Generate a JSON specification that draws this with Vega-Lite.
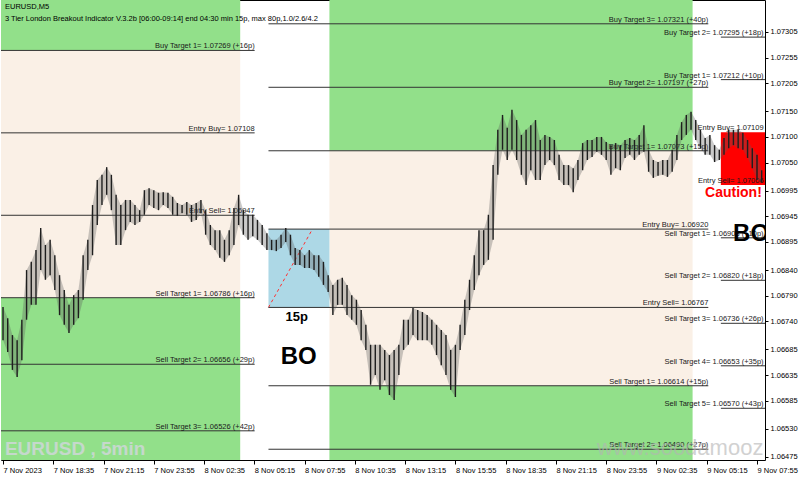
{
"$schema": "https://vega.github.io/schema/vega-lite/v6.json",
"width": 764,
"height": 460,
"autosize": {"type": "none"},
"padding": {"left": 1, "top": 0, "right": 35, "bottom": 17},
"background": "#ffffff",
"title": {"text": "EURUSD,M5", "subtitle": "3 Tier London Breakout Indicator V.3.2b [06:00-09:14] end 04:30 min 15p, max 80p,1.0/2.6/4.2", "anchor": "start", "frame": "group", "orient": "top", "offset": -22, "dx": 4, "font": "Liberation Sans", "fontSize": 7.5, "fontWeight": "normal", "color": "#000000", "subtitleFont": "Liberation Sans", "subtitleFontSize": 7.5, "subtitleColor": "#000000", "subtitlePadding": 4},
"config": {
  "view": {"stroke": "#000000", "strokeWidth": 1},
  "font": "Liberation Sans",
  "axis": {"grid": false, "domain": false, "title": null, "labelFont": "Liberation Sans", "labelFontSize": 7.5, "labelColor": "#000000", "tickColor": "#000000", "labelOverlap": false, "labelFlush": false, "labelBound": false}
},
"datasets": {
  "zones": [
    {"t": "2023-11-07T09:14:00Z", "t2": "2023-11-08T04:30:00Z", "p": 1.07269, "p2": 1.08, "k": "target"},
    {"t": "2023-11-07T09:14:00Z", "t2": "2023-11-08T04:30:00Z", "p": 1.06786, "p2": 1.07269, "k": "range"},
    {"t": "2023-11-07T09:14:00Z", "t2": "2023-11-08T04:30:00Z", "p": 1.06, "p2": 1.06786, "k": "target"},
    {"t": "2023-11-08T09:14:00Z", "t2": "2023-11-09T04:30:00Z", "p": 1.07073, "p2": 1.08, "k": "target"},
    {"t": "2023-11-08T09:14:00Z", "t2": "2023-11-09T04:30:00Z", "p": 1.06614, "p2": 1.07073, "k": "range"},
    {"t": "2023-11-08T09:14:00Z", "t2": "2023-11-09T04:30:00Z", "p": 1.06, "p2": 1.06614, "k": "target"},
    {"t": "2023-11-08T06:00:00Z", "t2": "2023-11-08T09:14:00Z", "p": 1.06767, "p2": 1.0692, "k": "box"},
    {"t": "2023-11-09T06:00:00Z", "t2": "2023-11-09T09:14:00Z", "p": 1.07006, "p2": 1.07109, "k": "caution"}
  ],
  "lines": [
    {"t": "2023-11-07T06:00:00Z", "t2": "2023-11-08T05:16:00Z", "p": 1.07269},
    {"t": "2023-11-07T06:00:00Z", "t2": "2023-11-08T05:16:00Z", "p": 1.07108},
    {"t": "2023-11-07T06:00:00Z", "t2": "2023-11-08T05:16:00Z", "p": 1.06947},
    {"t": "2023-11-07T06:00:00Z", "t2": "2023-11-08T05:16:00Z", "p": 1.06786},
    {"t": "2023-11-07T06:00:00Z", "t2": "2023-11-08T05:16:00Z", "p": 1.06656},
    {"t": "2023-11-07T06:00:00Z", "t2": "2023-11-08T05:16:00Z", "p": 1.06526},
    {"t": "2023-11-08T06:00:00Z", "t2": "2023-11-09T05:20:00Z", "p": 1.07321},
    {"t": "2023-11-08T06:00:00Z", "t2": "2023-11-09T05:20:00Z", "p": 1.07197},
    {"t": "2023-11-08T06:00:00Z", "t2": "2023-11-09T05:20:00Z", "p": 1.07073},
    {"t": "2023-11-08T06:00:00Z", "t2": "2023-11-09T05:20:00Z", "p": 1.0692},
    {"t": "2023-11-08T06:00:00Z", "t2": "2023-11-09T05:20:00Z", "p": 1.06767},
    {"t": "2023-11-08T06:00:00Z", "t2": "2023-11-09T05:20:00Z", "p": 1.06614},
    {"t": "2023-11-08T06:00:00Z", "t2": "2023-11-09T05:20:00Z", "p": 1.0649},
    {"t": "2023-11-09T06:00:00Z", "t2": "2023-11-09T09:14:00Z", "p": 1.07295},
    {"t": "2023-11-09T06:00:00Z", "t2": "2023-11-09T09:14:00Z", "p": 1.07212},
    {"t": "2023-11-09T06:00:00Z", "t2": "2023-11-09T09:14:00Z", "p": 1.06903},
    {"t": "2023-11-09T06:00:00Z", "t2": "2023-11-09T09:14:00Z", "p": 1.0682},
    {"t": "2023-11-09T06:00:00Z", "t2": "2023-11-09T09:14:00Z", "p": 1.06736},
    {"t": "2023-11-09T06:00:00Z", "t2": "2023-11-09T09:14:00Z", "p": 1.06653},
    {"t": "2023-11-09T06:00:00Z", "t2": "2023-11-09T09:14:00Z", "p": 1.0657}
  ],
  "labels": [
    {"t": "2023-11-08T05:16:00Z", "p": 1.07269, "s": "Buy Target 1= 1.07269  (+16p)"},
    {"t": "2023-11-08T05:16:00Z", "p": 1.07108, "s": "Entry Buy= 1.07108"},
    {"t": "2023-11-08T05:16:00Z", "p": 1.06947, "s": "Entry Sell= 1.06947"},
    {"t": "2023-11-08T05:16:00Z", "p": 1.06786, "s": "Sell Target 1= 1.06786  (+16p)"},
    {"t": "2023-11-08T05:16:00Z", "p": 1.06656, "s": "Sell Target 2= 1.06656  (+29p)"},
    {"t": "2023-11-08T05:16:00Z", "p": 1.06526, "s": "Sell Target 3= 1.06526  (+42p)"},
    {"t": "2023-11-09T05:20:00Z", "p": 1.07321, "s": "Buy Target 3= 1.07321  (+40p)"},
    {"t": "2023-11-09T05:20:00Z", "p": 1.07197, "s": "Buy Target 2= 1.07197  (+27p)"},
    {"t": "2023-11-09T05:20:00Z", "p": 1.07073, "s": "Buy Target 1= 1.07073  (+15p)"},
    {"t": "2023-11-09T05:20:00Z", "p": 1.0692, "s": "Entry Buy= 1.06920"},
    {"t": "2023-11-09T05:20:00Z", "p": 1.06767, "s": "Entry Sell= 1.06767"},
    {"t": "2023-11-09T05:20:00Z", "p": 1.06614, "s": "Sell Target 1= 1.06614  (+15p)"},
    {"t": "2023-11-09T05:20:00Z", "p": 1.0649, "s": "Sell Target 2= 1.06490  (+27p)"},
    {"t": "2023-11-09T08:16:00Z", "p": 1.07295, "s": "Buy Target 2= 1.07295  (+18p)"},
    {"t": "2023-11-09T08:16:00Z", "p": 1.07212, "s": "Buy Target 1= 1.07212  (+10p)"},
    {"t": "2023-11-09T08:16:00Z", "p": 1.07109, "s": "Entry Buy= 1.07109"},
    {"t": "2023-11-09T08:16:00Z", "p": 1.07006, "s": "Entry Sell= 1.07006"},
    {"t": "2023-11-09T08:16:00Z", "p": 1.06903, "s": "Sell Target 1= 1.06903  (+10p)"},
    {"t": "2023-11-09T08:16:00Z", "p": 1.0682, "s": "Sell Target 2= 1.06820  (+18p)"},
    {"t": "2023-11-09T08:16:00Z", "p": 1.06736, "s": "Sell Target 3= 1.06736  (+26p)"},
    {"t": "2023-11-09T08:16:00Z", "p": 1.06653, "s": "Sell Target 4= 1.06653  (+35p)"},
    {"t": "2023-11-09T08:16:00Z", "p": 1.0657, "s": "Sell Target 5= 1.06570  (+43p)"}
  ],
  "bars": [
    {"t":"2023-11-07T15:55:00Z","p":1.06768,"p2":1.06703},
    {"t":"2023-11-07T16:10:00Z","p":1.06746,"p2":1.0668},
    {"t":"2023-11-07T16:25:00Z","p":1.06713,"p2":1.06645},
    {"t":"2023-11-07T16:40:00Z","p":1.06703,"p2":1.06631},
    {"t":"2023-11-07T16:55:00Z","p":1.06743,"p2":1.06664},
    {"t":"2023-11-07T17:10:00Z","p":1.0684,"p2":1.06743},
    {"t":"2023-11-07T17:25:00Z","p":1.06856,"p2":1.06772},
    {"t":"2023-11-07T17:40:00Z","p":1.06879,"p2":1.06772},
    {"t":"2023-11-07T17:55:00Z","p":1.06922,"p2":1.0684},
    {"t":"2023-11-07T18:10:00Z","p":1.06889,"p2":1.06821},
    {"t":"2023-11-07T18:25:00Z","p":1.06899,"p2":1.0683},
    {"t":"2023-11-07T18:40:00Z","p":1.06869,"p2":1.06801},
    {"t":"2023-11-07T18:55:00Z","p":1.0683,"p2":1.06752},
    {"t":"2023-11-07T19:10:00Z","p":1.06801,"p2":1.06733},
    {"t":"2023-11-07T19:25:00Z","p":1.06772,"p2":1.06717},
    {"t":"2023-11-07T19:40:00Z","p":1.06791,"p2":1.06733},
    {"t":"2023-11-07T19:55:00Z","p":1.06801,"p2":1.06746},
    {"t":"2023-11-07T20:10:00Z","p":1.06869,"p2":1.06782},
    {"t":"2023-11-07T20:25:00Z","p":1.06899,"p2":1.0684},
    {"t":"2023-11-07T20:40:00Z","p":1.06967,"p2":1.06869},
    {"t":"2023-11-07T20:55:00Z","p":1.07016,"p2":1.06928},
    {"t":"2023-11-07T21:10:00Z","p":1.07026,"p2":1.06967},
    {"t":"2023-11-07T21:25:00Z","p":1.07041,"p2":1.06987},
    {"t":"2023-11-07T21:40:00Z","p":1.07026,"p2":1.06957},
    {"t":"2023-11-07T21:55:00Z","p":1.06987,"p2":1.06889},
    {"t":"2023-11-07T22:10:00Z","p":1.06967,"p2":1.06889},
    {"t":"2023-11-07T22:25:00Z","p":1.06977,"p2":1.06918},
    {"t":"2023-11-07T22:40:00Z","p":1.06977,"p2":1.06934},
    {"t":"2023-11-07T22:55:00Z","p":1.06967,"p2":1.06928},
    {"t":"2023-11-07T23:10:00Z","p":1.06957,"p2":1.06934},
    {"t":"2023-11-07T23:25:00Z","p":1.06996,"p2":1.06948},
    {"t":"2023-11-07T23:40:00Z","p":1.07,"p2":1.06967},
    {"t":"2023-11-07T23:55:00Z","p":1.06996,"p2":1.06961},
    {"t":"2023-11-08T00:10:00Z","p":1.06991,"p2":1.06957},
    {"t":"2023-11-08T00:25:00Z","p":1.06992,"p2":1.06967},
    {"t":"2023-11-08T00:40:00Z","p":1.06991,"p2":1.06961},
    {"t":"2023-11-08T00:55:00Z","p":1.06983,"p2":1.06948},
    {"t":"2023-11-08T01:10:00Z","p":1.06971,"p2":1.06946},
    {"t":"2023-11-08T01:25:00Z","p":1.06967,"p2":1.06951},
    {"t":"2023-11-08T01:40:00Z","p":1.06973,"p2":1.06948},
    {"t":"2023-11-08T01:55:00Z","p":1.06967,"p2":1.06934},
    {"t":"2023-11-08T02:10:00Z","p":1.06971,"p2":1.06938},
    {"t":"2023-11-08T02:25:00Z","p":1.06977,"p2":1.06951},
    {"t":"2023-11-08T02:40:00Z","p":1.06957,"p2":1.06909},
    {"t":"2023-11-08T02:55:00Z","p":1.06928,"p2":1.06889},
    {"t":"2023-11-08T03:10:00Z","p":1.06918,"p2":1.06879},
    {"t":"2023-11-08T03:25:00Z","p":1.06918,"p2":1.06864},
    {"t":"2023-11-08T03:40:00Z","p":1.06899,"p2":1.06856},
    {"t":"2023-11-08T03:55:00Z","p":1.06918,"p2":1.06869},
    {"t":"2023-11-08T04:10:00Z","p":1.06961,"p2":1.06889},
    {"t":"2023-11-08T04:25:00Z","p":1.06987,"p2":1.06928},
    {"t":"2023-11-08T04:40:00Z","p":1.06957,"p2":1.06909},
    {"t":"2023-11-08T04:55:00Z","p":1.06948,"p2":1.06899},
    {"t":"2023-11-08T05:10:00Z","p":1.06948,"p2":1.06906},
    {"t":"2023-11-08T05:25:00Z","p":1.06938,"p2":1.06899},
    {"t":"2023-11-08T05:40:00Z","p":1.06928,"p2":1.06889},
    {"t":"2023-11-08T05:55:00Z","p":1.06912,"p2":1.06879},
    {"t":"2023-11-08T06:10:00Z","p":1.06899,"p2":1.06879},
    {"t":"2023-11-08T06:25:00Z","p":1.06899,"p2":1.06877},
    {"t":"2023-11-08T06:40:00Z","p":1.06909,"p2":1.06883},
    {"t":"2023-11-08T06:55:00Z","p":1.06922,"p2":1.06895},
    {"t":"2023-11-08T07:10:00Z","p":1.06909,"p2":1.06869},
    {"t":"2023-11-08T07:25:00Z","p":1.06883,"p2":1.0685},
    {"t":"2023-11-08T07:40:00Z","p":1.06879,"p2":1.0685},
    {"t":"2023-11-08T07:55:00Z","p":1.06869,"p2":1.06844},
    {"t":"2023-11-08T08:10:00Z","p":1.06879,"p2":1.06844},
    {"t":"2023-11-08T08:25:00Z","p":1.06869,"p2":1.0684},
    {"t":"2023-11-08T08:40:00Z","p":1.06869,"p2":1.06827},
    {"t":"2023-11-08T08:55:00Z","p":1.06856,"p2":1.06811},
    {"t":"2023-11-08T09:10:00Z","p":1.0683,"p2":1.06797},
    {"t":"2023-11-08T09:25:00Z","p":1.06811,"p2":1.06752},
    {"t":"2023-11-08T09:40:00Z","p":1.06821,"p2":1.06772},
    {"t":"2023-11-08T09:55:00Z","p":1.06825,"p2":1.06772},
    {"t":"2023-11-08T10:10:00Z","p":1.06811,"p2":1.06752},
    {"t":"2023-11-08T10:25:00Z","p":1.06791,"p2":1.06743},
    {"t":"2023-11-08T10:40:00Z","p":1.06782,"p2":1.06733},
    {"t":"2023-11-08T10:55:00Z","p":1.06762,"p2":1.06703},
    {"t":"2023-11-08T11:10:00Z","p":1.06733,"p2":1.06684},
    {"t":"2023-11-08T11:25:00Z","p":1.06694,"p2":1.06616},
    {"t":"2023-11-08T11:40:00Z","p":1.06694,"p2":1.06635},
    {"t":"2023-11-08T11:55:00Z","p":1.06694,"p2":1.06606},
    {"t":"2023-11-08T12:10:00Z","p":1.06684,"p2":1.06625},
    {"t":"2023-11-08T12:25:00Z","p":1.06674,"p2":1.06596},
    {"t":"2023-11-08T12:40:00Z","p":1.06684,"p2":1.06586},
    {"t":"2023-11-08T12:55:00Z","p":1.06694,"p2":1.06635},
    {"t":"2023-11-08T13:10:00Z","p":1.06743,"p2":1.06684},
    {"t":"2023-11-08T13:25:00Z","p":1.06743,"p2":1.06694},
    {"t":"2023-11-08T13:40:00Z","p":1.06766,"p2":1.06713},
    {"t":"2023-11-08T13:55:00Z","p":1.06762,"p2":1.06703},
    {"t":"2023-11-08T14:10:00Z","p":1.06758,"p2":1.06703},
    {"t":"2023-11-08T14:25:00Z","p":1.06752,"p2":1.06703},
    {"t":"2023-11-08T14:40:00Z","p":1.06743,"p2":1.06694},
    {"t":"2023-11-08T14:55:00Z","p":1.06733,"p2":1.06674},
    {"t":"2023-11-08T15:10:00Z","p":1.06723,"p2":1.06654},
    {"t":"2023-11-08T15:25:00Z","p":1.06713,"p2":1.06635},
    {"t":"2023-11-08T15:40:00Z","p":1.06684,"p2":1.06606},
    {"t":"2023-11-08T15:55:00Z","p":1.06694,"p2":1.06592},
    {"t":"2023-11-08T16:10:00Z","p":1.06733,"p2":1.06684},
    {"t":"2023-11-08T16:25:00Z","p":1.06782,"p2":1.06713},
    {"t":"2023-11-08T16:40:00Z","p":1.06821,"p2":1.06762},
    {"t":"2023-11-08T16:55:00Z","p":1.06869,"p2":1.06801},
    {"t":"2023-11-08T17:10:00Z","p":1.06918,"p2":1.0683},
    {"t":"2023-11-08T17:25:00Z","p":1.06918,"p2":1.0685},
    {"t":"2023-11-08T17:40:00Z","p":1.06948,"p2":1.0686},
    {"t":"2023-11-08T17:55:00Z","p":1.07045,"p2":1.06899},
    {"t":"2023-11-08T18:10:00Z","p":1.07114,"p2":1.07026},
    {"t":"2023-11-08T18:25:00Z","p":1.07143,"p2":1.07075},
    {"t":"2023-11-08T18:40:00Z","p":1.07118,"p2":1.07055},
    {"t":"2023-11-08T18:55:00Z","p":1.07153,"p2":1.07075},
    {"t":"2023-11-08T19:10:00Z","p":1.07133,"p2":1.07055},
    {"t":"2023-11-08T19:25:00Z","p":1.07104,"p2":1.07026},
    {"t":"2023-11-08T19:40:00Z","p":1.07114,"p2":1.07006},
    {"t":"2023-11-08T19:55:00Z","p":1.07123,"p2":1.07035},
    {"t":"2023-11-08T20:10:00Z","p":1.07133,"p2":1.07016},
    {"t":"2023-11-08T20:25:00Z","p":1.07094,"p2":1.07016},
    {"t":"2023-11-08T20:40:00Z","p":1.07104,"p2":1.07045},
    {"t":"2023-11-08T20:55:00Z","p":1.071,"p2":1.07055},
    {"t":"2023-11-08T21:10:00Z","p":1.07094,"p2":1.07045},
    {"t":"2023-11-08T21:25:00Z","p":1.07065,"p2":1.07016},
    {"t":"2023-11-08T21:40:00Z","p":1.07045,"p2":1.07006},
    {"t":"2023-11-08T21:55:00Z","p":1.07045,"p2":1.07006},
    {"t":"2023-11-08T22:10:00Z","p":1.07039,"p2":1.06992},
    {"t":"2023-11-08T22:25:00Z","p":1.07055,"p2":1.07016},
    {"t":"2023-11-08T22:40:00Z","p":1.07088,"p2":1.07035},
    {"t":"2023-11-08T22:55:00Z","p":1.07094,"p2":1.07055},
    {"t":"2023-11-08T23:10:00Z","p":1.07094,"p2":1.07061},
    {"t":"2023-11-08T23:25:00Z","p":1.071,"p2":1.07071},
    {"t":"2023-11-08T23:40:00Z","p":1.071,"p2":1.07065},
    {"t":"2023-11-08T23:55:00Z","p":1.0709,"p2":1.07055},
    {"t":"2023-11-09T00:10:00Z","p":1.07084,"p2":1.07026},
    {"t":"2023-11-09T00:25:00Z","p":1.07088,"p2":1.07039},
    {"t":"2023-11-09T00:40:00Z","p":1.07084,"p2":1.07035},
    {"t":"2023-11-09T00:55:00Z","p":1.07094,"p2":1.07059},
    {"t":"2023-11-09T01:10:00Z","p":1.07098,"p2":1.07065},
    {"t":"2023-11-09T01:25:00Z","p":1.07094,"p2":1.07055},
    {"t":"2023-11-09T01:40:00Z","p":1.07104,"p2":1.07065},
    {"t":"2023-11-09T01:55:00Z","p":1.07123,"p2":1.07071},
    {"t":"2023-11-09T02:10:00Z","p":1.07075,"p2":1.07032},
    {"t":"2023-11-09T02:25:00Z","p":1.07055,"p2":1.0702},
    {"t":"2023-11-09T02:40:00Z","p":1.07051,"p2":1.07024},
    {"t":"2023-11-09T02:55:00Z","p":1.07055,"p2":1.07026},
    {"t":"2023-11-09T03:10:00Z","p":1.07055,"p2":1.07022},
    {"t":"2023-11-09T03:25:00Z","p":1.07075,"p2":1.07032},
    {"t":"2023-11-09T03:40:00Z","p":1.07104,"p2":1.07055},
    {"t":"2023-11-09T03:55:00Z","p":1.07129,"p2":1.07094},
    {"t":"2023-11-09T04:10:00Z","p":1.07143,"p2":1.07104},
    {"t":"2023-11-09T04:25:00Z","p":1.07149,"p2":1.07114},
    {"t":"2023-11-09T04:40:00Z","p":1.07133,"p2":1.07094},
    {"t":"2023-11-09T04:55:00Z","p":1.07114,"p2":1.07078},
    {"t":"2023-11-09T05:10:00Z","p":1.07098,"p2":1.07065},
    {"t":"2023-11-09T05:25:00Z","p":1.07104,"p2":1.07065},
    {"t":"2023-11-09T05:40:00Z","p":1.07084,"p2":1.07051},
    {"t":"2023-11-09T05:55:00Z","p":1.07075,"p2":1.07055},
    {"t":"2023-11-09T06:10:00Z","p":1.07098,"p2":1.07065},
    {"t":"2023-11-09T06:25:00Z","p":1.07114,"p2":1.07078},
    {"t":"2023-11-09T06:40:00Z","p":1.07114,"p2":1.07084},
    {"t":"2023-11-09T06:55:00Z","p":1.07114,"p2":1.07078},
    {"t":"2023-11-09T07:10:00Z","p":1.07108,"p2":1.07075},
    {"t":"2023-11-09T07:25:00Z","p":1.07094,"p2":1.07059},
    {"t":"2023-11-09T07:40:00Z","p":1.07078,"p2":1.07039},
    {"t":"2023-11-09T07:55:00Z","p":1.07065,"p2":1.07016},
    {"t":"2023-11-09T08:10:00Z","p":1.07035,"p2":1.07012}
  ]
},
"encoding": {
  "x": {"field": "t", "type": "temporal",
    "scale": {"type": "utc", "domain": [{"year": 2023, "month": 11, "date": 7, "hours": 15, "minutes": 48, "seconds": 38, "utc": true}, {"year": 2023, "month": 11, "date": 9, "hours": 8, "minutes": 20, "seconds": 28, "utc": true}]},
    "axis": {"orient": "bottom", "labelAlign": "left", "labelBaseline": "top", "labelPadding": 2, "tickSize": 4,
      "values": [
        {"year": 2023, "month": 11, "date": 7, "hours": 15, "minutes": 55, "utc": true},
        {"year": 2023, "month": 11, "date": 7, "hours": 18, "minutes": 35, "utc": true},
        {"year": 2023, "month": 11, "date": 7, "hours": 21, "minutes": 15, "utc": true},
        {"year": 2023, "month": 11, "date": 7, "hours": 23, "minutes": 55, "utc": true},
        {"year": 2023, "month": 11, "date": 8, "hours": 2, "minutes": 35, "utc": true},
        {"year": 2023, "month": 11, "date": 8, "hours": 5, "minutes": 15, "utc": true},
        {"year": 2023, "month": 11, "date": 8, "hours": 7, "minutes": 55, "utc": true},
        {"year": 2023, "month": 11, "date": 8, "hours": 10, "minutes": 35, "utc": true},
        {"year": 2023, "month": 11, "date": 8, "hours": 13, "minutes": 15, "utc": true},
        {"year": 2023, "month": 11, "date": 8, "hours": 15, "minutes": 55, "utc": true},
        {"year": 2023, "month": 11, "date": 8, "hours": 18, "minutes": 35, "utc": true},
        {"year": 2023, "month": 11, "date": 8, "hours": 21, "minutes": 15, "utc": true},
        {"year": 2023, "month": 11, "date": 8, "hours": 23, "minutes": 55, "utc": true},
        {"year": 2023, "month": 11, "date": 9, "hours": 2, "minutes": 35, "utc": true},
        {"year": 2023, "month": 11, "date": 9, "hours": 5, "minutes": 15, "utc": true},
        {"year": 2023, "month": 11, "date": 9, "hours": 7, "minutes": 55, "utc": true}
      ],
      "labelExpr": "utcFormat(datum.value, '%d %H:%M') == '07 15:55' ? '7 Nov 2023' : utcFormat(datum.value, '%-d %b %H:%M')"}
  },
  "y": {"field": "p", "type": "quantitative",
    "scale": {"domain": [1.06469, 1.073675], "zero": false, "nice": false},
    "axis": {"orient": "right", "format": ".5f", "tickSize": 3, "labelPadding": 2,
      "values": [1.07305, 1.07255, 1.07205, 1.0715, 1.071, 1.0705, 1.06995, 1.06945, 1.06895, 1.0684, 1.0679, 1.0674, 1.06685, 1.06635, 1.06585, 1.0653, 1.06475]}
  }
},
"layer": [
  {"data": {"name": "zones"}, "mark": {"type": "rect", "clip": true},
   "encoding": {"x2": {"field": "t2"}, "y2": {"field": "p2"},
     "color": {"field": "k", "type": "nominal", "legend": null, "scale": {"domain": ["target", "range", "box", "caution"], "range": ["#92E08A", "#FAF0E6", "#ADD8E6", "#FF0000"]}}}},
  {"data": {"values": [{"t": "2023-11-08T06:00:00Z", "t2": "2023-11-08T08:20:00Z", "p": 1.06767, "p2": 1.0692}]},
   "mark": {"type": "rule", "color": "#FF3030", "strokeWidth": 1, "strokeDash": [3, 3], "clip": true},
   "encoding": {"x2": {"field": "t2"}, "y2": {"field": "p2"}}},
  {"data": {"name": "lines"}, "mark": {"type": "rule", "color": "#333333", "strokeWidth": 1, "clip": true},
   "encoding": {"x2": {"field": "t2"}}},
  {"data": {"name": "labels"}, "mark": {"type": "text", "align": "right", "baseline": "alphabetic", "dy": -2, "fontSize": 7.5, "font": "Liberation Sans", "color": "#1a1a1a", "clip": true},
   "encoding": {"text": {"field": "s"}}},
  {"data": {"name": "bars"}, "mark": {"type": "area", "color": "#5a5a5a", "opacity": 0.32, "clip": true, "interpolate": "linear"},
   "encoding": {"y2": {"field": "p2"}}},
  {"data": {"name": "bars"}, "mark": {"type": "rule", "color": "#1e1e1e", "strokeWidth": 1.4, "clip": true},
   "encoding": {"y2": {"field": "p2"}}},
  {"data": {"values": [{"t": "2023-11-07T16:01:00Z", "p": 1.06479, "s": "EURUSD , 5min"}]},
   "mark": {"type": "text", "align": "left", "baseline": "alphabetic", "fontSize": 19, "fontWeight": "bold", "font": "Liberation Sans", "color": "#d6d6e2", "opacity": 0.75, "clip": true},
   "encoding": {"text": {"field": "s"}}},
  {"data": {"values": [{"t": "2023-11-08T23:26:00Z", "p": 1.06479, "s": "www.soodamooz.com"}]},
   "mark": {"type": "text", "align": "left", "baseline": "alphabetic", "fontSize": 22, "font": "Liberation Sans", "color": "#b4b4b4", "opacity": 0.6, "clip": true},
   "encoding": {"text": {"field": "s"}}},
  {"data": {"values": [{"t": "2023-11-08T07:30:00Z", "p": 1.06748, "s": "15p"}]},
   "mark": {"type": "text", "align": "center", "baseline": "middle", "fontSize": 13, "fontWeight": "bold", "font": "Liberation Sans", "color": "#000000"},
   "encoding": {"text": {"field": "s"}}},
  {"data": {"values": [{"t": "2023-11-08T07:36:00Z", "p": 1.0667, "s": "BO"}]},
   "mark": {"type": "text", "align": "center", "baseline": "middle", "fontSize": 24, "fontWeight": "bold", "font": "Liberation Sans", "color": "#000000"},
   "encoding": {"text": {"field": "s"}}},
  {"data": {"values": [{"t": "2023-11-09T06:39:00Z", "p": 1.0691, "s": "BO"}]},
   "mark": {"type": "text", "align": "left", "baseline": "middle", "fontSize": 24, "fontWeight": "bold", "font": "Liberation Sans", "color": "#000000", "clip": true},
   "encoding": {"text": {"field": "s"}}},
  {"data": {"values": [{"t": "2023-11-09T06:40:00Z", "p": 1.0699, "s": "Caution!"}]},
   "mark": {"type": "text", "align": "center", "baseline": "middle", "fontSize": 14, "fontWeight": "bold", "font": "Liberation Sans", "color": "#FF0000", "clip": true},
   "encoding": {"text": {"field": "s"}}}
]
}
